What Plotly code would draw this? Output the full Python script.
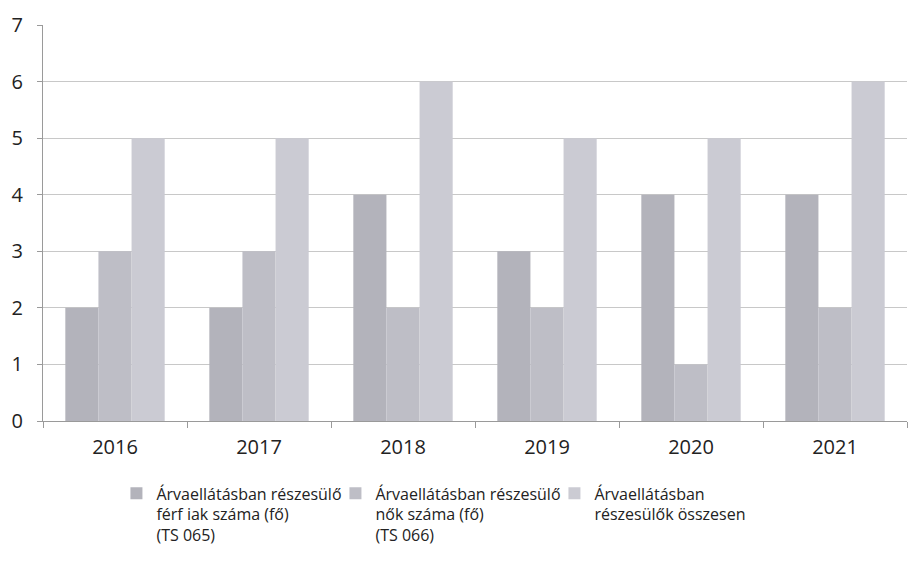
import plotly.graph_objects as go

years = ["2016", "2017", "2018", "2019", "2020", "2021"]
ferfiak = [2, 2, 4, 3, 4, 4]
nok = [3, 3, 2, 2, 1, 2]
osszesen = [5, 5, 6, 5, 5, 6]

names = [
    "Árvaellátásban részesülő<br>férf iak száma (fő)<br>(TS 065)",
    "Árvaellátásban részesülő<br>nők száma (fő)<br>(TS 066)",
    "Árvaellátásban<br>részesülők összesen",
]
colors = ["#b3b3bb", "#bebec6", "#cbcbd3"]

fig = go.Figure()
for vals, name, col in zip([ferfiak, nok, osszesen], names, colors):
    fig.add_trace(go.Bar(x=years, y=vals, name=name, marker_color=col,
                         marker_line_width=0))

# page body adds ~8px offset, margins compensate
fig.update_layout(
    width=919, height=570,
    margin=dict(l=35, r=20, t=17, b=157),
    plot_bgcolor="white", paper_bgcolor="white",
    barmode="group", bargap=0.31, bargroupgap=0,
    font=dict(family="Open Sans, sans-serif", color="#222222", size=20),
    legend=dict(orientation="h", x=0.085, y=-0.14, xanchor="left", yanchor="top",
                font=dict(size=16), entrywidth=174, valign="top",
                itemwidth=30, tracegroupgap=0),
    showlegend=True,
)
fig.update_xaxes(showline=True, linecolor="#9a9a9a", ticks="outside", tickcolor="#9a9a9a",
                 ticklen=6, tickson="boundaries", showgrid=False, automargin=False,
                 ticklabelstandoff=8)
fig.update_yaxes(range=[0, 7], dtick=1, showline=True, linecolor="#9a9a9a",
                 gridcolor="#c8c8c8", ticks="outside", tickcolor="#9a9a9a", ticklen=5,
                 zeroline=False, automargin=False, ticklabelstandoff=10)

fig.write_html("out.html")
